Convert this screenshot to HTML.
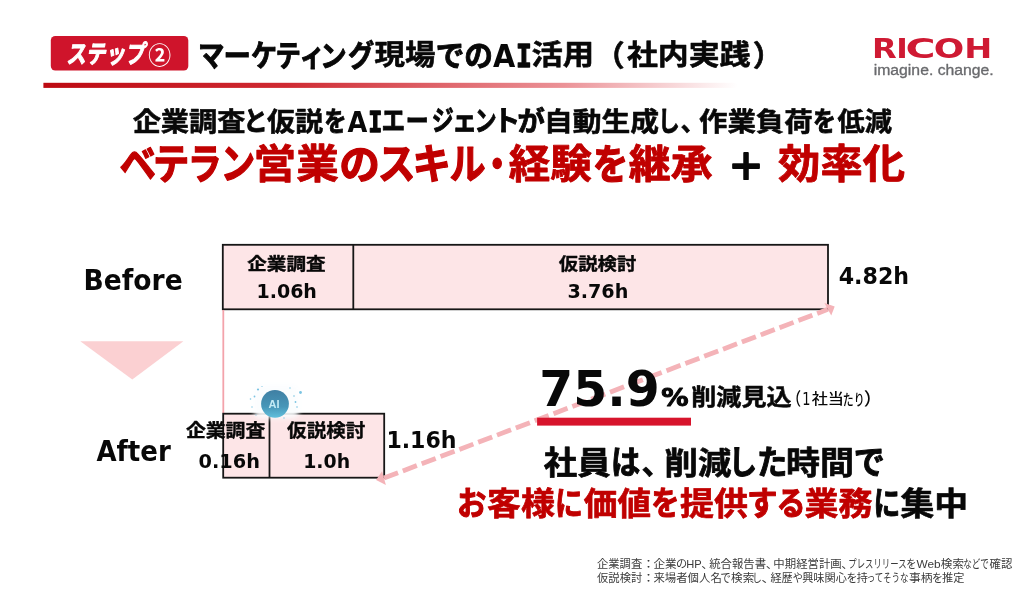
<!DOCTYPE html>
<html lang="ja">
<head>
<meta charset="utf-8">
<title>マーケティング現場でのAI活用（社内実践）</title>
<style>
html,body{margin:0;padding:0;background:#fff;}
body{width:1024px;height:616px;overflow:hidden;font-family:"Liberation Sans","Noto Sans CJK JP",sans-serif;}
svg{display:block;}
text{white-space:pre;}
</style>
</head>
<body>
<svg width="1024" height="616" viewBox="0 0 1024 616">
<defs>
<linearGradient id="hl" x1="0" y1="0" x2="1" y2="0">
<stop offset="0" stop-color="#bd0a12"/>
<stop offset="0.35" stop-color="#cf2a32"/>
<stop offset="0.75" stop-color="#eb9297"/>
<stop offset="1" stop-color="#ffffff"/>
</linearGradient>
<radialGradient id="halo" cx="0.5" cy="0.5" r="0.5">
<stop offset="0" stop-color="#f2fafd" stop-opacity="1"/>
<stop offset="0.7" stop-color="#f6fbfd" stop-opacity="0.95"/>
<stop offset="1" stop-color="#ffffff" stop-opacity="0"/>
</radialGradient>
<linearGradient id="orb" x1="0" y1="0" x2="0" y2="1">
<stop offset="0" stop-color="#3f7fa3"/>
<stop offset="0.6" stop-color="#4796b8"/>
<stop offset="1" stop-color="#62bfdc"/>
</linearGradient>
<filter id="blur" x="-30%" y="-30%" width="160%" height="160%"><feGaussianBlur stdDeviation="2.6"/></filter>
</defs>
<rect x="0" y="0" width="1024" height="616" fill="#fff"/>
<!-- header -->
<rect x="50.8" y="36" width="137.5" height="34.6" rx="4.5" fill="#cf142b"/>
<rect x="43.4" y="82.8" width="694" height="5.1" fill="url(#hl)"/>
<!-- before bar -->
<rect x="222.8" y="244.8" width="605.2" height="64.5" fill="#fde5e7" stroke="#161616" stroke-width="1.8"/>
<line x1="353.3" y1="244.8" x2="353.3" y2="309.3" stroke="#161616" stroke-width="1.8"/>
<!-- connector -->
<line x1="223.3" y1="310" x2="223.3" y2="413" stroke="#f3a3ab" stroke-width="1.8"/>
<!-- triangle -->
<polygon points="80.3,341.3 183.4,341.3 132.3,379.6" fill="#fbd0d2"/>
<!-- after bar -->
<rect x="223.2" y="413.7" width="161" height="64" fill="#fde5e7" stroke="#161616" stroke-width="1.8"/>
<line x1="269.5" y1="413.7" x2="269.5" y2="477.7" stroke="#161616" stroke-width="1.8"/>
<!-- dashed arrow -->
<line x1="384" y1="478.1" x2="827.8" y2="309.35" stroke="#f4b3b8" stroke-width="4.8" stroke-dasharray="15 5.15"/>
<polygon points="824.4,303.1 834.7,306.5 831.25,315.6" fill="#f4b3b8"/>
<polygon points="382,471.25 376.1,480 385.9,484.9" fill="#f4b3b8"/>
<!-- underline -->
<rect x="537.1" y="417.7" width="153.9" height="7.9" fill="#d7142c"/>
<!-- AI icon -->
<rect x="254" y="385" width="45" height="33" rx="6" fill="#fbfdfe" opacity="0.93" filter="url(#blur)"/>
<g fill="#7cc4e2">
<circle cx="258" cy="389.5" r="1.1"/><circle cx="254.5" cy="396.5" r="0.9"/><circle cx="250.5" cy="399" r="0.8"/>
<circle cx="300.5" cy="392.5" r="1.4"/><circle cx="294" cy="396" r="0.8"/><circle cx="295.5" cy="402" r="0.9"/>
<circle cx="297" cy="407" r="0.8"/><circle cx="252" cy="407" r="0.7"/><circle cx="290" cy="388" r="0.7"/>
<circle cx="262" cy="386.5" r="0.6"/><circle cx="284" cy="418" r="0.7"/><circle cx="256" cy="415" r="0.6"/>
</g>
<circle cx="275" cy="403.8" r="13.9" fill="url(#orb)"/>

<text transform="translate(66.27 63.25) skewX(-9) scale(0.7839 1)" font-size="25.08" font-weight="bold" fill="#fff" stroke="#fff" stroke-width="1.00" stroke-linejoin="round" font-family='"Noto Sans CJK JP", "Liberation Sans", sans-serif'>ステップ</text>
<text transform="translate(148.14 63.81) scale(0.9772 1)" font-size="23.34" font-weight="bold" fill="#fff" font-family='"Noto Sans CJK JP", "Liberation Sans", sans-serif'>②</text>
<text transform="translate(197.94 65.94) scale(0.8781 1)" font-size="30.06" font-weight="bold" fill="#080808" stroke="#080808" stroke-width="0.90" stroke-linejoin="round" font-family='"Noto Sans CJK JP", "Liberation Sans", sans-serif'>マ</text>
<text transform="translate(223.46 65.94) scale(0.9126 1)" font-size="30.06" font-weight="bold" fill="#080808" stroke="#080808" stroke-width="0.90" stroke-linejoin="round" font-family='"Noto Sans CJK JP", "Liberation Sans", sans-serif'>ー</text>
<text transform="translate(251.08 65.94) scale(0.8699 1)" font-size="30.06" font-weight="bold" fill="#080808" stroke="#080808" stroke-width="0.90" stroke-linejoin="round" font-family='"Noto Sans CJK JP", "Liberation Sans", sans-serif'>ケ</text>
<text transform="translate(275.51 65.94) scale(0.8476 1)" font-size="30.06" font-weight="bold" fill="#080808" stroke="#080808" stroke-width="0.90" stroke-linejoin="round" font-family='"Noto Sans CJK JP", "Liberation Sans", sans-serif'>テ</text>
<text transform="translate(299.51 65.94) scale(0.8470 1)" font-size="30.06" font-weight="bold" fill="#080808" stroke="#080808" stroke-width="0.90" stroke-linejoin="round" font-family='"Noto Sans CJK JP", "Liberation Sans", sans-serif'>ィ</text>
<text transform="translate(320.07 65.94) scale(0.8909 1)" font-size="30.06" font-weight="bold" fill="#080808" stroke="#080808" stroke-width="0.90" stroke-linejoin="round" font-family='"Noto Sans CJK JP", "Liberation Sans", sans-serif'>ン</text>
<text transform="translate(347.93 65.94) scale(0.8725 1)" font-size="30.06" font-weight="bold" fill="#080808" stroke="#080808" stroke-width="0.90" stroke-linejoin="round" font-family='"Noto Sans CJK JP", "Liberation Sans", sans-serif'>グ</text>
<text transform="translate(374.52 65.38) scale(1.0796 1)" font-size="28.23" font-weight="bold" fill="#080808" stroke="#080808" stroke-width="0.59" stroke-linejoin="round" font-family='"Noto Sans CJK JP", "Liberation Sans", sans-serif'>現場</text>
<text transform="translate(435.71 65.66) scale(0.9764 1)" font-size="29.36" font-weight="bold" fill="#080808" stroke="#080808" stroke-width="0.88" stroke-linejoin="round" font-family='"Noto Sans CJK JP", "Liberation Sans", sans-serif'>での</text>
<text transform="translate(493.10 66.90) scale(0.9038 1)" font-size="31.86" font-weight="bold" fill="#080808" font-family='"DejaVu Sans", "Liberation Sans", sans-serif'>A</text>
<text transform="translate(516.05 66.90) scale(0.8242 1)" font-size="31.86" font-weight="bold" fill="#080808" stroke="#080808" stroke-width="1.43" stroke-linejoin="round" font-family='"DejaVu Sans Mono", "Liberation Mono", monospace'>I</text>
<text transform="translate(531.52 65.38) scale(1.1100 1)" font-size="28.23" font-weight="bold" fill="#080808" stroke="#080808" stroke-width="0.59" stroke-linejoin="round" font-family='"Noto Sans CJK JP", "Liberation Sans", sans-serif'>活用</text>
<text transform="translate(594.76 66.20) scale(1.0227 1)" font-size="29.26" font-weight="bold" fill="#080808" stroke="#080808" stroke-width="0.61" stroke-linejoin="round" font-family='"Noto Sans CJK JP", "Liberation Sans", sans-serif'>（</text>
<text transform="translate(626.90 65.38) scale(1.0945 1)" font-size="28.23" font-weight="bold" fill="#080808" stroke="#080808" stroke-width="0.59" stroke-linejoin="round" font-family='"Noto Sans CJK JP", "Liberation Sans", sans-serif'>社内実践</text>
<text transform="translate(752.82 66.20) scale(1.0227 1)" font-size="29.26" font-weight="bold" fill="#080808" stroke="#080808" stroke-width="0.61" stroke-linejoin="round" font-family='"Noto Sans CJK JP", "Liberation Sans", sans-serif'>）</text>
<text transform="translate(132.66 130.75) scale(1.0656 1)" font-size="26.46" font-weight="bold" fill="#080808" stroke="#080808" stroke-width="0.56" stroke-linejoin="round" font-family='"Noto Sans CJK JP", "Liberation Sans", sans-serif'>企業調査</text>
<text transform="translate(243.28 131.02) scale(0.8933 1)" font-size="27.52" font-weight="bold" fill="#080808" stroke="#080808" stroke-width="0.83" stroke-linejoin="round" font-family='"Noto Sans CJK JP", "Liberation Sans", sans-serif'>と</text>
<text transform="translate(266.90 130.75) scale(1.0620 1)" font-size="26.46" font-weight="bold" fill="#080808" stroke="#080808" stroke-width="0.56" stroke-linejoin="round" font-family='"Noto Sans CJK JP", "Liberation Sans", sans-serif'>仮説</text>
<text transform="translate(324.21 131.02) scale(0.8097 1)" font-size="27.52" font-weight="bold" fill="#080808" stroke="#080808" stroke-width="0.83" stroke-linejoin="round" font-family='"Noto Sans CJK JP", "Liberation Sans", sans-serif'>を</text>
<text transform="translate(347.50 131.75) scale(0.9104 1)" font-size="28.12" font-weight="bold" fill="#080808" font-family='"DejaVu Sans", "Liberation Sans", sans-serif'>A</text>
<text transform="translate(368.17 131.75) scale(0.8319 1)" font-size="28.12" font-weight="bold" fill="#080808" stroke="#080808" stroke-width="1.27" stroke-linejoin="round" font-family='"DejaVu Sans Mono", "Liberation Mono", monospace'>I</text>
<text transform="translate(381.62 131.28) scale(0.8375 1)" font-size="28.18" font-weight="bold" fill="#080808" stroke="#080808" stroke-width="0.85" stroke-linejoin="round" font-family='"Noto Sans CJK JP", "Liberation Sans", sans-serif'>エ</text>
<text transform="translate(405.70 131.28) scale(0.8160 1)" font-size="28.18" font-weight="bold" fill="#080808" stroke="#080808" stroke-width="0.85" stroke-linejoin="round" font-family='"Noto Sans CJK JP", "Liberation Sans", sans-serif'>ー</text>
<text transform="translate(431.72 131.28) scale(0.7832 1)" font-size="28.18" font-weight="bold" fill="#080808" stroke="#080808" stroke-width="0.85" stroke-linejoin="round" font-family='"Noto Sans CJK JP", "Liberation Sans", sans-serif'>ジ</text>
<text transform="translate(452.05 131.28) scale(0.8962 1)" font-size="28.18" font-weight="bold" fill="#080808" stroke="#080808" stroke-width="0.85" stroke-linejoin="round" font-family='"Noto Sans CJK JP", "Liberation Sans", sans-serif'>ェ</text>
<text transform="translate(474.48 131.28) scale(0.7865 1)" font-size="28.18" font-weight="bold" fill="#080808" stroke="#080808" stroke-width="0.85" stroke-linejoin="round" font-family='"Noto Sans CJK JP", "Liberation Sans", sans-serif'>ン</text>
<text transform="translate(493.21 131.28) scale(0.9607 1)" font-size="28.18" font-weight="bold" fill="#080808" stroke="#080808" stroke-width="0.85" stroke-linejoin="round" font-family='"Noto Sans CJK JP", "Liberation Sans", sans-serif'>ト</text>
<text transform="translate(517.47 131.02) scale(0.9943 1)" font-size="27.52" font-weight="bold" fill="#080808" stroke="#080808" stroke-width="0.83" stroke-linejoin="round" font-family='"Noto Sans CJK JP", "Liberation Sans", sans-serif'>が</text>
<text transform="translate(544.05 130.75) scale(1.0880 1)" font-size="26.46" font-weight="bold" fill="#080808" stroke="#080808" stroke-width="0.56" stroke-linejoin="round" font-family='"Noto Sans CJK JP", "Liberation Sans", sans-serif'>自動生成</text>
<text transform="translate(658.09 131.02) scale(0.7888 1)" font-size="27.52" font-weight="bold" fill="#080808" stroke="#080808" stroke-width="0.83" stroke-linejoin="round" font-family='"Noto Sans CJK JP", "Liberation Sans", sans-serif'>し</text>
<text transform="translate(680.45 130.75) scale(0.9621 1)" font-size="26.46" font-weight="bold" fill="#080808" stroke="#080808" stroke-width="0.56" stroke-linejoin="round" font-family='"Noto Sans CJK JP", "Liberation Sans", sans-serif'>、</text>
<text transform="translate(698.96 130.75) scale(1.0756 1)" font-size="26.46" font-weight="bold" fill="#080808" stroke="#080808" stroke-width="0.56" stroke-linejoin="round" font-family='"Noto Sans CJK JP", "Liberation Sans", sans-serif'>作業負荷</text>
<text transform="translate(812.97 131.02) scale(0.8334 1)" font-size="27.52" font-weight="bold" fill="#080808" stroke="#080808" stroke-width="0.83" stroke-linejoin="round" font-family='"Noto Sans CJK JP", "Liberation Sans", sans-serif'>を</text>
<text transform="translate(837.50 130.75) scale(1.0280 1)" font-size="26.46" font-weight="bold" fill="#080808" stroke="#080808" stroke-width="0.56" stroke-linejoin="round" font-family='"Noto Sans CJK JP", "Liberation Sans", sans-serif'>低減</text>
<text transform="translate(119.61 178.96) scale(0.8761 1)" font-size="41.82" font-weight="bold" fill="#c00000" stroke="#c00000" stroke-width="1.25" stroke-linejoin="round" font-family='"Noto Sans CJK JP", "Liberation Sans", sans-serif'>ベ</text>
<text transform="translate(152.91 178.96) scale(0.8695 1)" font-size="41.82" font-weight="bold" fill="#c00000" stroke="#c00000" stroke-width="1.25" stroke-linejoin="round" font-family='"Noto Sans CJK JP", "Liberation Sans", sans-serif'>テ</text>
<text transform="translate(187.76 178.96) scale(0.8110 1)" font-size="41.82" font-weight="bold" fill="#c00000" stroke="#c00000" stroke-width="1.25" stroke-linejoin="round" font-family='"Noto Sans CJK JP", "Liberation Sans", sans-serif'>ラ</text>
<text transform="translate(220.60 178.96) scale(0.8317 1)" font-size="41.82" font-weight="bold" fill="#c00000" stroke="#c00000" stroke-width="1.25" stroke-linejoin="round" font-family='"Noto Sans CJK JP", "Liberation Sans", sans-serif'>ン</text>
<text transform="translate(253.57 178.17) scale(1.0847 1)" font-size="39.27" font-weight="bold" fill="#c00000" stroke="#c00000" stroke-width="0.82" stroke-linejoin="round" font-family='"Noto Sans CJK JP", "Liberation Sans", sans-serif'>営業</text>
<text transform="translate(339.36 178.57) scale(0.9962 1)" font-size="40.84" font-weight="bold" fill="#c00000" stroke="#c00000" stroke-width="1.23" stroke-linejoin="round" font-family='"Noto Sans CJK JP", "Liberation Sans", sans-serif'>の</text>
<text transform="translate(377.64 178.96) scale(0.9042 1)" font-size="41.82" font-weight="bold" fill="#c00000" stroke="#c00000" stroke-width="1.25" stroke-linejoin="round" font-family='"Noto Sans CJK JP", "Liberation Sans", sans-serif'>ス</text>
<text transform="translate(412.59 178.96) scale(0.9210 1)" font-size="41.82" font-weight="bold" fill="#c00000" stroke="#c00000" stroke-width="1.25" stroke-linejoin="round" font-family='"Noto Sans CJK JP", "Liberation Sans", sans-serif'>キ</text>
<text transform="translate(449.47 178.96) scale(0.8630 1)" font-size="41.82" font-weight="bold" fill="#c00000" stroke="#c00000" stroke-width="1.25" stroke-linejoin="round" font-family='"Noto Sans CJK JP", "Liberation Sans", sans-serif'>ル</text>
<text transform="translate(480.49 178.96) scale(0.7991 1)" font-size="41.82" font-weight="bold" fill="#c00000" stroke="#c00000" stroke-width="1.25" stroke-linejoin="round" font-family='"Noto Sans CJK JP", "Liberation Sans", sans-serif'>・</text>
<text transform="translate(508.75 178.17) scale(1.0587 1)" font-size="39.27" font-weight="bold" fill="#c00000" stroke="#c00000" stroke-width="0.82" stroke-linejoin="round" font-family='"Noto Sans CJK JP", "Liberation Sans", sans-serif'>経験</text>
<text transform="translate(592.78 178.57) scale(0.8706 1)" font-size="40.84" font-weight="bold" fill="#c00000" stroke="#c00000" stroke-width="1.23" stroke-linejoin="round" font-family='"Noto Sans CJK JP", "Liberation Sans", sans-serif'>を</text>
<text transform="translate(628.75 178.17) scale(1.0670 1)" font-size="39.27" font-weight="bold" fill="#c00000" stroke="#c00000" stroke-width="0.82" stroke-linejoin="round" font-family='"Noto Sans CJK JP", "Liberation Sans", sans-serif'>継承</text>
<text transform="translate(727.65 179.67) scale(1.0000 1)" font-size="36.59" font-weight="bold" fill="#080808" stroke="#080808" stroke-width="1.83" stroke-linejoin="round" font-family='"Noto Sans CJK JP", "Liberation Sans", sans-serif'>＋</text>
<text transform="translate(778.09 178.17) scale(1.0778 1)" font-size="39.27" font-weight="bold" fill="#c00000" stroke="#c00000" stroke-width="0.82" stroke-linejoin="round" font-family='"Noto Sans CJK JP", "Liberation Sans", sans-serif'>効率化</text>
<text transform="translate(83.52 289.85) scale(0.9268 1)" font-size="28.67" font-weight="bold" fill="#080808" font-family='"DejaVu Sans", "Liberation Sans", sans-serif'>Before</text>
<text transform="translate(96.40 461.27) scale(0.9417 1)" font-size="27.65" font-weight="bold" fill="#080808" font-family='"DejaVu Sans", "Liberation Sans", sans-serif'>After</text>
<text transform="translate(247.19 270.28) scale(1.1185 1)" font-size="17.55" font-weight="bold" fill="#080808" stroke="#080808" stroke-width="0.37" stroke-linejoin="round" font-family='"Noto Sans CJK JP", "Liberation Sans", sans-serif'>企業調査</text>
<text transform="translate(256.42 297.80) scale(0.9852 1)" font-size="19.33" font-weight="bold" fill="#080808" font-family='"DejaVu Sans", "Liberation Sans", sans-serif'>1.06h</text>
<text transform="translate(558.80 270.28) scale(1.1056 1)" font-size="17.55" font-weight="bold" fill="#080808" stroke="#080808" stroke-width="0.37" stroke-linejoin="round" font-family='"Noto Sans CJK JP", "Liberation Sans", sans-serif'>仮説検討</text>
<text transform="translate(567.40 297.80) scale(0.9922 1)" font-size="19.33" font-weight="bold" fill="#080808" font-family='"DejaVu Sans", "Liberation Sans", sans-serif'>3.76h</text>
<text transform="translate(838.71 283.85) scale(0.9825 1)" font-size="22.53" font-weight="bold" fill="#080808" font-family='"DejaVu Sans", "Liberation Sans", sans-serif'>4.82h</text>
<text transform="translate(185.89 437.07) scale(1.1263 1)" font-size="17.65" font-weight="bold" fill="#080808" stroke="#080808" stroke-width="0.37" stroke-linejoin="round" font-family='"Noto Sans CJK JP", "Liberation Sans", sans-serif'>企業調査</text>
<text transform="translate(198.59 467.79) scale(0.9731 1)" font-size="19.84" font-weight="bold" fill="#080808" font-family='"DejaVu Sans", "Liberation Sans", sans-serif'>0.16h</text>
<text transform="translate(287.10 437.07) scale(1.1090 1)" font-size="17.65" font-weight="bold" fill="#080808" stroke="#080808" stroke-width="0.37" stroke-linejoin="round" font-family='"Noto Sans CJK JP", "Liberation Sans", sans-serif'>仮説検討</text>
<text transform="translate(303.23 467.79) scale(0.9521 1)" font-size="19.84" font-weight="bold" fill="#080808" font-family='"DejaVu Sans", "Liberation Sans", sans-serif'>1.0h</text>
<text transform="translate(386.39 447.65) scale(0.9856 1)" font-size="22.40" font-weight="bold" fill="#080808" font-family='"DejaVu Sans", "Liberation Sans", sans-serif'>1.16h</text>
<text transform="translate(539.20 405.52) scale(0.9788 1)" font-size="49.89" font-weight="bold" fill="#080808" font-family='"DejaVu Sans", "Liberation Sans", sans-serif'>75.9</text>
<text transform="translate(661.15 405.81) scale(1.0821 1)" font-size="25.21" font-weight="bold" fill="#080808" stroke="#080808" stroke-width="1.01" stroke-linejoin="round" font-family='"DejaVu Sans", "Liberation Sans", sans-serif'>%</text>
<text transform="translate(691.22 404.74) scale(1.0931 1)" font-size="22.97" font-weight="bold" fill="#080808" stroke="#080808" stroke-width="0.48" stroke-linejoin="round" font-family='"Noto Sans CJK JP", "Liberation Sans", sans-serif'>削減見込</text>
<text transform="translate(786.41 405.08) scale(0.8350 1)" font-size="17.55" font-weight="500" fill="#080808" font-family='"Noto Sans CJK JP", "Liberation Sans", sans-serif'>（</text>
<text transform="translate(802.34 405.40) scale(0.7352 1)" font-size="17.57" font-weight="500" fill="#080808" font-family='"DejaVu Sans", "Liberation Sans", sans-serif'>1</text>
<text transform="translate(811.65 404.43) scale(1.1098 1)" font-size="14.58" font-weight="500" fill="#080808" font-family='"Noto Sans CJK JP", "Liberation Sans", sans-serif'>社当</text>
<text transform="translate(842.73 404.85) scale(0.7177 1)" font-size="15.20" font-weight="500" fill="#080808" font-family='"Noto Sans CJK JP", "Liberation Sans", sans-serif'>たり</text>
<text transform="translate(863.81 405.08) scale(1.0749 1)" font-size="17.55" font-weight="500" fill="#080808" font-family='"Noto Sans CJK JP", "Liberation Sans", sans-serif'>）</text>
<text transform="translate(543.75 473.77) scale(1.0683 1)" font-size="31.25" font-weight="bold" fill="#080808" stroke="#080808" stroke-width="0.66" stroke-linejoin="round" font-family='"Noto Sans CJK JP", "Liberation Sans", sans-serif'>社員</text>
<text transform="translate(611.00 474.09) scale(0.9020 1)" font-size="32.50" font-weight="bold" fill="#080808" stroke="#080808" stroke-width="0.97" stroke-linejoin="round" font-family='"Noto Sans CJK JP", "Liberation Sans", sans-serif'>は</text>
<text transform="translate(641.54 473.77) scale(0.9868 1)" font-size="31.25" font-weight="bold" fill="#080808" stroke="#080808" stroke-width="0.66" stroke-linejoin="round" font-family='"Noto Sans CJK JP", "Liberation Sans", sans-serif'>、</text>
<text transform="translate(664.56 473.77) scale(1.0671 1)" font-size="31.25" font-weight="bold" fill="#080808" stroke="#080808" stroke-width="0.66" stroke-linejoin="round" font-family='"Noto Sans CJK JP", "Liberation Sans", sans-serif'>削減</text>
<text transform="translate(728.58 474.09) scale(0.8819 1)" font-size="32.50" font-weight="bold" fill="#080808" stroke="#080808" stroke-width="0.97" stroke-linejoin="round" font-family='"Noto Sans CJK JP", "Liberation Sans", sans-serif'>し</text>
<text transform="translate(757.03 474.09) scale(0.9336 1)" font-size="32.50" font-weight="bold" fill="#080808" stroke="#080808" stroke-width="0.97" stroke-linejoin="round" font-family='"Noto Sans CJK JP", "Liberation Sans", sans-serif'>た</text>
<text transform="translate(785.97 473.77) scale(1.0889 1)" font-size="31.25" font-weight="bold" fill="#080808" stroke="#080808" stroke-width="0.66" stroke-linejoin="round" font-family='"Noto Sans CJK JP", "Liberation Sans", sans-serif'>時間</text>
<text transform="translate(853.76 474.09) scale(0.9565 1)" font-size="32.50" font-weight="bold" fill="#080808" stroke="#080808" stroke-width="0.97" stroke-linejoin="round" font-family='"Noto Sans CJK JP", "Liberation Sans", sans-serif'>で</text>
<text transform="translate(457.10 515.15) scale(0.8932 1)" font-size="32.93" font-weight="bold" fill="#c00000" stroke="#c00000" stroke-width="0.99" stroke-linejoin="round" font-family='"Noto Sans CJK JP", "Liberation Sans", sans-serif'>お</text>
<text transform="translate(486.97 514.83) scale(1.0731 1)" font-size="31.67" font-weight="bold" fill="#c00000" stroke="#c00000" stroke-width="0.66" stroke-linejoin="round" font-family='"Noto Sans CJK JP", "Liberation Sans", sans-serif'>客様</text>
<text transform="translate(554.88 515.15) scale(0.8470 1)" font-size="32.93" font-weight="bold" fill="#c00000" stroke="#c00000" stroke-width="0.99" stroke-linejoin="round" font-family='"Noto Sans CJK JP", "Liberation Sans", sans-serif'>に</text>
<text transform="translate(583.75 514.83) scale(1.0627 1)" font-size="31.67" font-weight="bold" fill="#c00000" stroke="#c00000" stroke-width="0.66" stroke-linejoin="round" font-family='"Noto Sans CJK JP", "Liberation Sans", sans-serif'>価値</text>
<text transform="translate(651.34 515.15) scale(0.8565 1)" font-size="32.93" font-weight="bold" fill="#c00000" stroke="#c00000" stroke-width="0.99" stroke-linejoin="round" font-family='"Noto Sans CJK JP", "Liberation Sans", sans-serif'>を</text>
<text transform="translate(680.07 514.83) scale(1.0720 1)" font-size="31.67" font-weight="bold" fill="#c00000" stroke="#c00000" stroke-width="0.66" stroke-linejoin="round" font-family='"Noto Sans CJK JP", "Liberation Sans", sans-serif'>提供</text>
<text transform="translate(747.02 515.15) scale(0.9257 1)" font-size="32.93" font-weight="bold" fill="#c00000" stroke="#c00000" stroke-width="0.99" stroke-linejoin="round" font-family='"Noto Sans CJK JP", "Liberation Sans", sans-serif'>す</text>
<text transform="translate(776.47 515.15) scale(0.8876 1)" font-size="32.93" font-weight="bold" fill="#c00000" stroke="#c00000" stroke-width="0.99" stroke-linejoin="round" font-family='"Noto Sans CJK JP", "Liberation Sans", sans-serif'>る</text>
<text transform="translate(804.47 514.83) scale(1.0731 1)" font-size="31.67" font-weight="bold" fill="#c00000" stroke="#c00000" stroke-width="0.66" stroke-linejoin="round" font-family='"Noto Sans CJK JP", "Liberation Sans", sans-serif'>業務</text>
<text transform="translate(873.49 515.15) scale(0.8140 1)" font-size="32.93" font-weight="bold" fill="#080808" stroke="#080808" stroke-width="0.99" stroke-linejoin="round" font-family='"Noto Sans CJK JP", "Liberation Sans", sans-serif'>に</text>
<text transform="translate(900.40 514.83) scale(1.0680 1)" font-size="31.67" font-weight="bold" fill="#080808" stroke="#080808" stroke-width="0.66" stroke-linejoin="round" font-family='"Noto Sans CJK JP", "Liberation Sans", sans-serif'>集中</text>
<text transform="translate(596.90 567.75) scale(1.0125 1)" font-size="11.20" font-weight="normal" fill="#3a3a3a" font-family='"Noto Sans CJK JP", "Liberation Sans", sans-serif'>企業調査</text>
<text transform="translate(641.46 567.75) scale(1.2571 1)" font-size="11.20" font-weight="normal" fill="#3a3a3a" font-family='"Noto Sans CJK JP", "Liberation Sans", sans-serif'>：</text>
<text transform="translate(653.39 567.75) scale(1.0369 1)" font-size="11.20" font-weight="normal" fill="#3a3a3a" font-family='"Noto Sans CJK JP", "Liberation Sans", sans-serif'>企業</text>
<text transform="translate(675.92 567.86) scale(0.9615 1)" font-size="11.65" font-weight="normal" fill="#3a3a3a" font-family='"Noto Sans CJK JP", "Liberation Sans", sans-serif'>の</text>
<text transform="translate(686.13 567.75) scale(0.9920 1)" font-size="11.20" font-weight="normal" fill="#3a3a3a" font-family='"Liberation Sans", sans-serif'>HP</text>
<text transform="translate(701.32 567.75) scale(1.1128 1)" font-size="11.20" font-weight="normal" fill="#3a3a3a" font-family='"Noto Sans CJK JP", "Liberation Sans", sans-serif'>、</text>
<text transform="translate(709.22 567.75) scale(1.0163 1)" font-size="11.20" font-weight="normal" fill="#3a3a3a" font-family='"Noto Sans CJK JP", "Liberation Sans", sans-serif'>統合報告書</text>
<text transform="translate(765.66 567.75) scale(1.1278 1)" font-size="11.20" font-weight="normal" fill="#3a3a3a" font-family='"Noto Sans CJK JP", "Liberation Sans", sans-serif'>、</text>
<text transform="translate(773.33 567.75) scale(1.0194 1)" font-size="11.20" font-weight="normal" fill="#3a3a3a" font-family='"Noto Sans CJK JP", "Liberation Sans", sans-serif'>中期経営計画</text>
<text transform="translate(841.32 567.75) scale(1.1128 1)" font-size="11.20" font-weight="normal" fill="#3a3a3a" font-family='"Noto Sans CJK JP", "Liberation Sans", sans-serif'>、</text>
<text transform="translate(848.35 567.97) scale(0.7028 1)" font-size="11.93" font-weight="normal" fill="#3a3a3a" font-family='"Noto Sans CJK JP", "Liberation Sans", sans-serif'>プレスリリース</text>
<text transform="translate(906.15 567.86) scale(0.8727 1)" font-size="11.65" font-weight="normal" fill="#3a3a3a" font-family='"Noto Sans CJK JP", "Liberation Sans", sans-serif'>を</text>
<text transform="translate(916.50 567.75) scale(1.0593 1)" font-size="11.20" font-weight="normal" fill="#3a3a3a" font-family='"Liberation Sans", sans-serif'>Web</text>
<text transform="translate(940.82 567.75) scale(1.0369 1)" font-size="11.20" font-weight="normal" fill="#3a3a3a" font-family='"Noto Sans CJK JP", "Liberation Sans", sans-serif'>検索</text>
<text transform="translate(963.30 567.86) scale(0.7366 1)" font-size="11.65" font-weight="normal" fill="#3a3a3a" font-family='"Noto Sans CJK JP", "Liberation Sans", sans-serif'>などで</text>
<text transform="translate(989.57 567.75) scale(1.0204 1)" font-size="11.20" font-weight="normal" fill="#3a3a3a" font-family='"Noto Sans CJK JP", "Liberation Sans", sans-serif'>確認</text>
<text transform="translate(597.07 581.80) scale(1.0085 1)" font-size="11.20" font-weight="normal" fill="#3a3a3a" font-family='"Noto Sans CJK JP", "Liberation Sans", sans-serif'>仮説検討</text>
<text transform="translate(641.46 581.80) scale(1.2571 1)" font-size="11.20" font-weight="normal" fill="#3a3a3a" font-family='"Noto Sans CJK JP", "Liberation Sans", sans-serif'>：</text>
<text transform="translate(653.39 581.80) scale(1.0187 1)" font-size="11.20" font-weight="normal" fill="#3a3a3a" font-family='"Noto Sans CJK JP", "Liberation Sans", sans-serif'>来場者個人名</text>
<text transform="translate(720.45 581.91) scale(0.8741 1)" font-size="11.65" font-weight="normal" fill="#3a3a3a" font-family='"Noto Sans CJK JP", "Liberation Sans", sans-serif'>で</text>
<text transform="translate(731.07 581.80) scale(1.0369 1)" font-size="11.20" font-weight="normal" fill="#3a3a3a" font-family='"Noto Sans CJK JP", "Liberation Sans", sans-serif'>検索</text>
<text transform="translate(752.37 581.91) scale(0.8178 1)" font-size="11.65" font-weight="normal" fill="#3a3a3a" font-family='"Noto Sans CJK JP", "Liberation Sans", sans-serif'>し</text>
<text transform="translate(761.21 581.80) scale(1.3083 1)" font-size="11.20" font-weight="normal" fill="#3a3a3a" font-family='"Noto Sans CJK JP", "Liberation Sans", sans-serif'>、</text>
<text transform="translate(770.42 581.80) scale(1.0011 1)" font-size="11.20" font-weight="normal" fill="#3a3a3a" font-family='"Noto Sans CJK JP", "Liberation Sans", sans-serif'>経歴</text>
<text transform="translate(792.63 581.91) scale(0.8634 1)" font-size="11.65" font-weight="normal" fill="#3a3a3a" font-family='"Noto Sans CJK JP", "Liberation Sans", sans-serif'>や</text>
<text transform="translate(802.15 581.80) scale(1.0028 1)" font-size="11.20" font-weight="normal" fill="#3a3a3a" font-family='"Noto Sans CJK JP", "Liberation Sans", sans-serif'>興味関心</text>
<text transform="translate(846.47 581.91) scale(0.9427 1)" font-size="11.65" font-weight="normal" fill="#3a3a3a" font-family='"Noto Sans CJK JP", "Liberation Sans", sans-serif'>を</text>
<text transform="translate(856.73 581.80) scale(0.9930 1)" font-size="11.20" font-weight="normal" fill="#3a3a3a" font-family='"Noto Sans CJK JP", "Liberation Sans", sans-serif'>持</text>
<text transform="translate(866.77 581.91) scale(0.7299 1)" font-size="11.65" font-weight="normal" fill="#3a3a3a" font-family='"Noto Sans CJK JP", "Liberation Sans", sans-serif'>ってそうな</text>
<text transform="translate(909.05 581.80) scale(1.0539 1)" font-size="11.20" font-weight="normal" fill="#3a3a3a" font-family='"Noto Sans CJK JP", "Liberation Sans", sans-serif'>事柄</text>
<text transform="translate(931.88 581.91) scale(0.9373 1)" font-size="11.65" font-weight="normal" fill="#3a3a3a" font-family='"Noto Sans CJK JP", "Liberation Sans", sans-serif'>を</text>
<text transform="translate(942.08 581.80) scale(0.9989 1)" font-size="11.20" font-weight="normal" fill="#3a3a3a" font-family='"Noto Sans CJK JP", "Liberation Sans", sans-serif'>推定</text>
<text transform="translate(871.99 58.10) scale(1.1805 1)" font-size="27.23" font-weight="bold" fill="#cf1a33" font-family='"DejaVu Sans", "Liberation Sans", sans-serif'>R</text>
<text transform="translate(896.18 58.10) scale(1.1388 1)" font-size="27.23" font-weight="bold" fill="#cf1a33" font-family='"DejaVu Sans", "Liberation Sans", sans-serif'>I</text>
<text transform="translate(905.48 57.69) scale(1.5680 1)" font-size="26.12" font-weight="bold" fill="#cf1a33" font-family='"DejaVu Sans", "Liberation Sans", sans-serif'>C</text>
<text transform="translate(933.82 57.69) scale(1.3750 1)" font-size="26.12" font-weight="bold" fill="#cf1a33" font-family='"DejaVu Sans", "Liberation Sans", sans-serif'>O</text>
<text transform="translate(964.13 58.10) scale(1.2297 1)" font-size="27.23" font-weight="bold" fill="#cf1a33" font-family='"DejaVu Sans", "Liberation Sans", sans-serif'>H</text>
<text transform="translate(873.71 75.46) scale(1.0475 1)" font-size="15.06" font-weight="normal" fill="#696a6d" stroke="#696a6d" stroke-width="0.33" stroke-linejoin="round" font-family='"Liberation Sans", sans-serif'>imagine. change.</text>
<text x="274" y="407.9" text-anchor="middle" font-size="11" font-weight="bold" fill="#c4ebf6" font-family='"Liberation Sans", sans-serif'>AI</text>

</svg>
</body>
</html>
